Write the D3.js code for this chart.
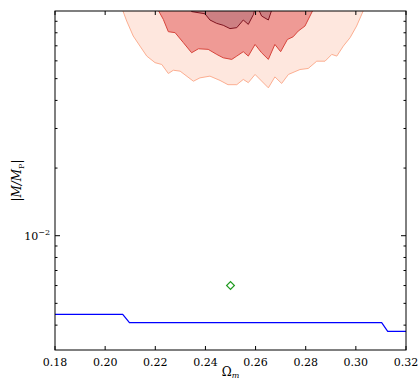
<!DOCTYPE html>
<html>
<head>
<meta charset="utf-8">
<script src="https://cdn.jsdelivr.net/npm/d3@7"></script>
<style>
  body { margin: 0; background: #fff; }
  text { font-family: "DejaVu Serif", serif; fill: #000; }
</style>
</head>
<body>
<script>
// tick values
var xTicks = [0.18, 0.20, 0.22, 0.24, 0.26, 0.28, 0.30, 0.32];
var yMajor = [0.01];
var yMinor = [0.004, 0.005, 0.006, 0.007, 0.008, 0.009,
              0.02, 0.03, 0.04, 0.05, 0.06, 0.07, 0.08, 0.09];

// contour edges: [Omega_m, |M/M_P|]
var outerLevel = [[0.2057, 0.11], [0.2070, 0.1007], [0.2086, 0.0902], [0.2112, 0.0774],
  [0.2139, 0.0698], [0.2166, 0.0630], [0.2199, 0.0589], [0.2226, 0.0578], [0.2252, 0.0527],
  [0.2272, 0.0545], [0.2299, 0.0540], [0.2352, 0.0487], [0.2378, 0.0504], [0.2418, 0.0513],
  [0.2458, 0.0491], [0.2490, 0.0470], [0.2525, 0.0470], [0.2551, 0.0496], [0.2571, 0.0480],
  [0.2598, 0.0522], [0.2651, 0.0455], [0.2677, 0.0509], [0.2704, 0.0476], [0.2731, 0.0522],
  [0.2777, 0.0549], [0.2810, 0.0555], [0.2844, 0.0598], [0.2877, 0.0598], [0.2904, 0.0641],
  [0.2924, 0.0630], [0.2950, 0.0698], [0.2977, 0.0761], [0.3003, 0.0857], [0.3030, 0.1005],
  [0.3045, 0.11]];
var middleLevel = [[0.2193, 0.11], [0.2212, 0.1007], [0.2232, 0.0918], [0.2252, 0.0809],
  [0.2279, 0.0801], [0.2312, 0.0723], [0.2345, 0.0652], [0.2372, 0.0679], [0.2411, 0.0675],
  [0.2445, 0.0641], [0.2471, 0.0619], [0.2505, 0.0609], [0.2525, 0.0630], [0.2551, 0.0659],
  [0.2571, 0.0630], [0.2598, 0.0710], [0.2624, 0.0652], [0.2651, 0.0609], [0.2677, 0.0710],
  [0.2700, 0.0659], [0.2727, 0.0747], [0.2750, 0.0768], [0.2770, 0.0814], [0.2797, 0.0857],
  [0.2817, 0.0950], [0.2828, 0.1005], [0.2845, 0.11]];
var innerLevel = [[0.2334, 0.11], [0.2345, 0.0994], [0.2398, 0.0972], [0.2418, 0.0912],
  [0.2445, 0.0881], [0.2471, 0.0864], [0.2498, 0.0835], [0.2525, 0.0843], [0.2551, 0.0912],
  [0.2571, 0.0872], [0.2592, 0.0967], [0.2602, 0.1076], [0.2624, 0.0950], [0.2651, 0.0912],
  [0.2664, 0.1007], [0.2670, 0.11]];

// blue limit line
var limitOmega = [0.18, 0.207, 0.2097, 0.3103, 0.3127, 0.32];
var limitMass = [0.00447, 0.00447, 0.00410, 0.00410, 0.003755, 0.003755];

// fiducial point
var pointOmega = 0.25;
var pointMass = 0.006;

var width = 418;
var height = 381;
var pLeft = 55, pRight = 406, pTop = 11, pBottom = 350;

var svg = d3.select("body").append("svg")
  .attr("width", width)
  .attr("height", height);

var x = d3.scaleLinear().domain([0.18, 0.32]).range([pLeft, pRight]);
var y = d3.scaleLog().domain([0.0031, 0.1]).range([pBottom, pTop]);

svg.append("clipPath").attr("id", "plotclip")
  .append("rect")
  .attr("x", pLeft).attr("y", pTop)
  .attr("width", pRight - pLeft).attr("height", pBottom - pTop);

var plot = svg.append("g").attr("clip-path", "url(#plotclip)");

var line = d3.line().x(d => x(d[0])).y(d => y(d[1]));

var levels = [
  { pts: outerLevel, fill: "#fee7de", stroke: "#fcae91" },
  { pts: middleLevel, fill: "#ef9a95", stroke: "#d8453c" },
  { pts: innerLevel, fill: "#cd8083", stroke: "#7f1420" }
];

levels.forEach(function(l) {
  plot.append("path")
    .attr("d", line(l.pts) + "Z")
    .attr("fill", l.fill)
    .attr("stroke", l.stroke)
    .attr("stroke-width", 1);
});

plot.append("path")
  .datum(d3.zip(limitOmega, limitMass))
  .attr("d", line)
  .attr("fill", "none")
  .attr("stroke", "#0000ff")
  .attr("stroke-width", 1.2);

plot.append("path")
  .attr("d", d3.symbol().type(d3.symbolSquare).size(30)())
  .attr("transform", "translate(" + x(pointOmega) + "," + y(pointMass) + ") rotate(45)")
  .attr("fill", "none")
  .attr("stroke", "#1f9a1f")
  .attr("stroke-width", 1.2);

// frame
svg.append("rect")
  .attr("x", pLeft).attr("y", pTop)
  .attr("width", pRight - pLeft).attr("height", pBottom - pTop)
  .attr("fill", "none")
  .attr("stroke", "#000")
  .attr("stroke-width", 1);

var ticks = svg.append("g").attr("stroke", "#000").attr("stroke-width", 1);

xTicks.forEach(function(t) {
  ticks.append("line").attr("x1", x(t)).attr("x2", x(t)).attr("y1", pBottom).attr("y2", pBottom - 4);
  ticks.append("line").attr("x1", x(t)).attr("x2", x(t)).attr("y1", pTop).attr("y2", pTop + 4);
});

yMajor.forEach(function(t) {
  ticks.append("line").attr("x1", pLeft).attr("x2", pLeft + 5).attr("y1", y(t)).attr("y2", y(t));
  ticks.append("line").attr("x1", pRight).attr("x2", pRight - 5).attr("y1", y(t)).attr("y2", y(t));
});
yMinor.forEach(function(t) {
  ticks.append("line").attr("x1", pLeft).attr("x2", pLeft + 2.5).attr("y1", y(t)).attr("y2", y(t));
  ticks.append("line").attr("x1", pRight).attr("x2", pRight - 2.5).attr("y1", y(t)).attr("y2", y(t));
});

// x tick labels
svg.append("g").selectAll("text")
  .data(xTicks)
  .enter()
  .append("text")
  .attr("x", d => x(d))
  .attr("y", pBottom + 16)
  .attr("text-anchor", "middle")
  .attr("font-size", 11)
  .text(d => d3.format(".2f")(d));

// y tick label 10^-2
yMajor.forEach(function(t) {
  var lab = svg.append("text")
    .attr("x", pLeft - 5)
    .attr("y", y(t) + 4)
    .attr("text-anchor", "end")
    .attr("font-size", 11);
  lab.append("tspan").text("10");
  lab.append("tspan").attr("dy", -5).attr("font-size", 8).text("\u22122");
});

// axis labels
var xl = svg.append("text")
  .attr("x", (pLeft + pRight) / 2)
  .attr("y", 376)
  .attr("text-anchor", "middle")
  .attr("font-size", 12);
xl.append("tspan").text("\u03A9");
xl.append("tspan").attr("dy", 2).attr("font-size", 8).attr("font-style", "italic").text("m");

var yl = svg.append("text")
  .attr("transform", "translate(21," + ((pTop + pBottom) / 2) + ") rotate(-90)")
  .attr("text-anchor", "middle")
  .attr("font-size", 12);
yl.append("tspan").text("|");
yl.append("tspan").attr("font-style", "italic").text("M/M");
yl.append("tspan").attr("dy", 3).attr("font-size", 8).text("P");
yl.append("tspan").attr("dy", -3).text("|");
</script>
</body>
</html>
